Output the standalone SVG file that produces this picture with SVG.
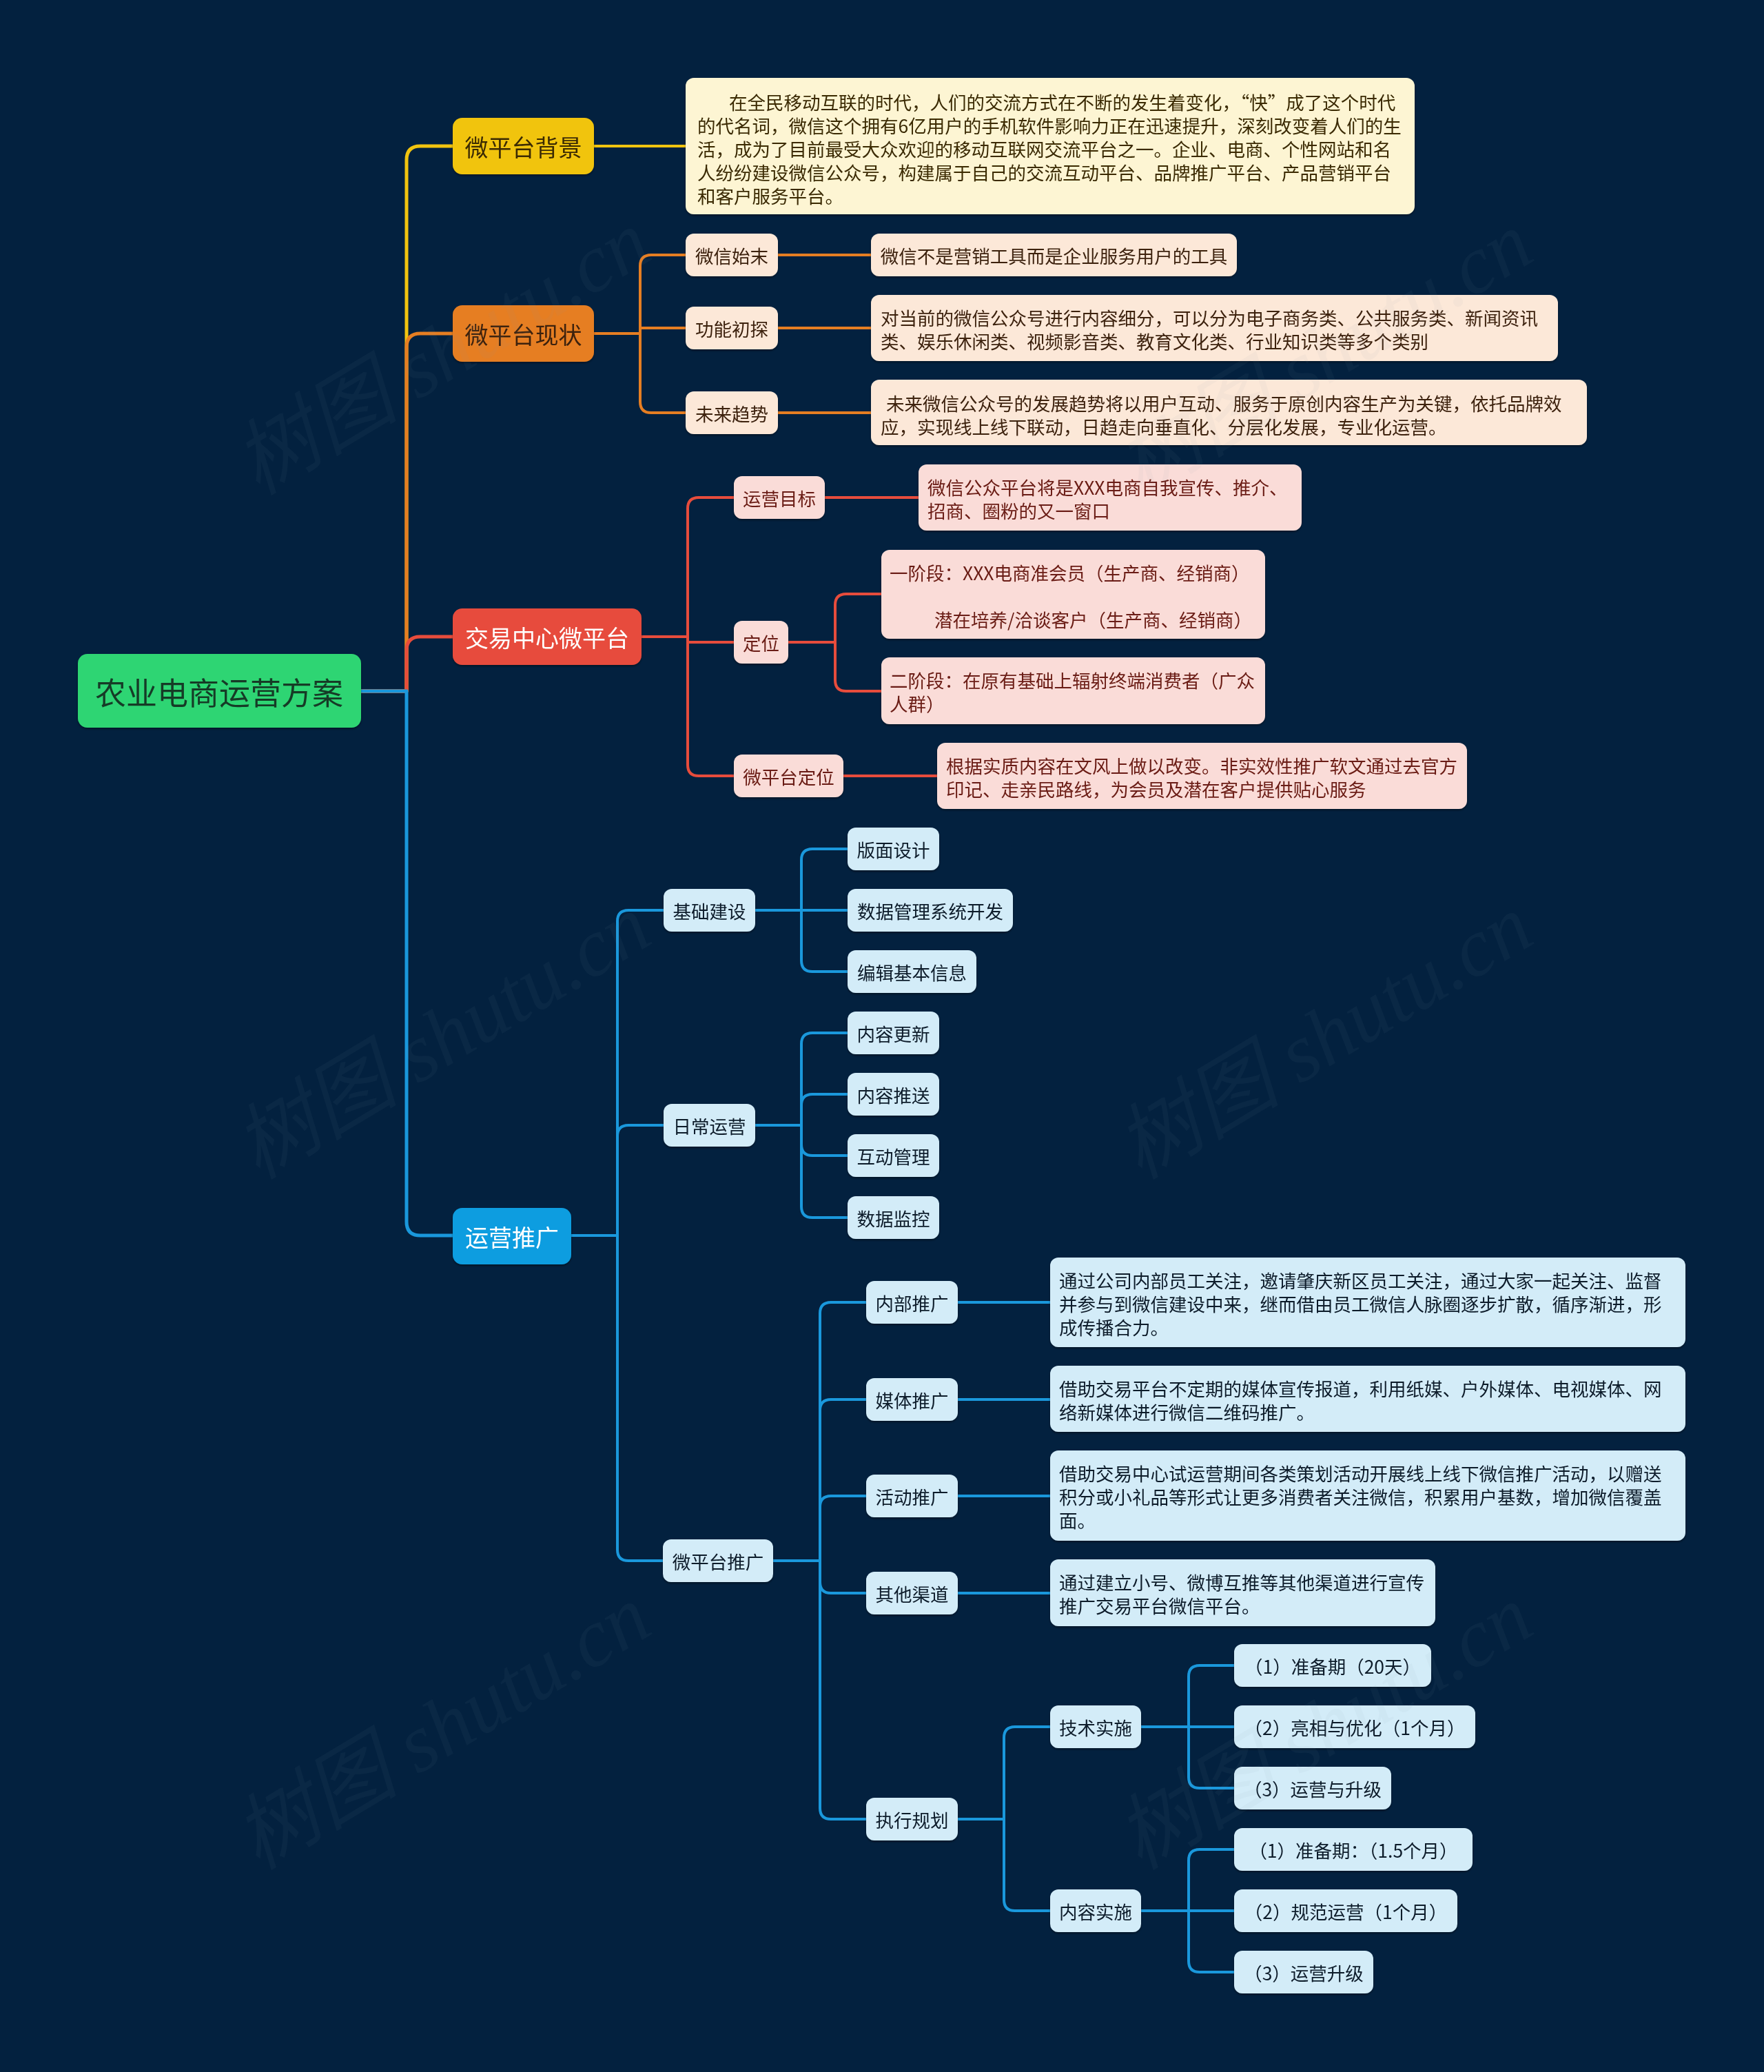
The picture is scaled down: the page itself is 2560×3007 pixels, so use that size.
<svg xmlns="http://www.w3.org/2000/svg" width="2560" height="3007" viewBox="0 0 2560 3007">
<defs>
<filter id="sh" x="-5%" y="-10%" width="110%" height="130%">
<feDropShadow dx="0" dy="2" stdDeviation="1.5" flood-color="#000" flood-opacity="0.4"/>
</filter>
<style>
text{font-family:"Noto Sans CJK SC","Noto Sans",sans-serif;}
.c{text-anchor:middle;dominant-baseline:central;}
.l{dominant-baseline:central;}
.f1{font-size:34px;}
.f2{font-size:26.5px;}
.ln{fill:none;stroke-linecap:round;stroke-linejoin:round;}
.y{stroke:#f1c40f;}
.o{stroke:#e67e22;}
.r{stroke:#e74c3c;}
.b{stroke:#1a98dc;}
.w1{stroke-width:5;}
.w2{stroke-width:4;}
.ny{fill:#fdf5d3;}
.no{fill:#fce8d8;}
.nr{fill:#fadcd8;}
.nb{fill:#d3ecf8;}
.ty{fill:#3a2a06;}
.to{fill:#3d2210;}
.tr{fill:#6a1b12;}
.tb{fill:#0d1b2a;}
.wm{font-family:"Liberation Serif","Noto Sans CJK SC",serif;font-style:italic;font-size:120px;fill:#8a96a8;fill-opacity:0.06;text-anchor:middle;dominant-baseline:central;}
</style>
</defs>
<rect x="0" y="0" width="2560" height="3007" fill="#03213f"/>

<g id="connectors">
<path class="ln y w1" d="M524,1003 H590 V232 Q590,212 610,212 H657"/>
<path class="ln o w1" d="M524,1003 H590 V504 Q590,484 610,484 H657"/>
<path class="ln r w1" d="M524,1003 H590 V944 Q590,924 610,924 H657"/>
<path class="ln b w1" d="M524,1003 H590 V1773 Q590,1793 610,1793 H657"/>

<path class="ln y w2" d="M862,212 H995"/>

<path class="ln o w2" d="M862,484 H929 V386 Q929,370 945,370 H995"/>
<path class="ln o w2" d="M862,484 H929 V583 Q929,599 945,599 H995"/>
<path class="ln o w2" d="M929,476 H995"/>
<path class="ln o w2" d="M1129,370 H1264 M1129,476 H1264 M1129,599 H1264"/>

<path class="ln r w2" d="M931,924 H998 V738 Q998,722 1014,722 H1065"/>
<path class="ln r w2" d="M931,924 H998 V1110 Q998,1126 1014,1126 H1065"/>
<path class="ln r w2" d="M998,932 H1065"/>
<path class="ln r w2" d="M1197,722 H1333"/>
<path class="ln r w2" d="M1144,932 H1212 V878 Q1212,862 1228,862 H1279"/>
<path class="ln r w2" d="M1144,932 H1212 V987 Q1212,1003 1228,1003 H1279"/>
<path class="ln r w2" d="M1224,1126 H1360"/>

<path class="ln b w2" d="M829,1793 H896 V1337 Q896,1321 912,1321 H963"/>
<path class="ln b w2" d="M829,1793 H896 V1649 Q896,1633 912,1633 H963"/>
<path class="ln b w2" d="M829,1793 H896 V2249 Q896,2265 912,2265 H963"/>

<path class="ln b w2" d="M1096,1321 H1163 V1248 Q1163,1232 1179,1232 H1230"/>
<path class="ln b w2" d="M1096,1321 H1230"/>
<path class="ln b w2" d="M1163,1321 V1394 Q1163,1410 1179,1410 H1230"/>

<path class="ln b w2" d="M1096,1633 H1163 V1515 Q1163,1499 1179,1499 H1230"/>
<path class="ln b w2" d="M1163,1633 V1604 Q1163,1588 1179,1588 H1230"/>
<path class="ln b w2" d="M1163,1633 V1661 Q1163,1677 1179,1677 H1230"/>
<path class="ln b w2" d="M1163,1633 V1751 Q1163,1767 1179,1767 H1230"/>

<path class="ln b w2" d="M1122,2265 H1190 V1906 Q1190,1890 1206,1890 H1257"/>
<path class="ln b w2" d="M1190,2265 V2047 Q1190,2031 1206,2031 H1257"/>
<path class="ln b w2" d="M1190,2265 V2187 Q1190,2171 1206,2171 H1257"/>
<path class="ln b w2" d="M1190,2265 V2296 Q1190,2312 1206,2312 H1257"/>
<path class="ln b w2" d="M1190,2265 V2624 Q1190,2640 1206,2640 H1257"/>
<path class="ln b w2" d="M1390,1890 H1524 M1390,2031 H1524 M1390,2171 H1524 M1390,2312 H1524"/>

<path class="ln b w2" d="M1390,2640 H1457 V2522 Q1457,2506 1473,2506 H1524"/>
<path class="ln b w2" d="M1457,2640 V2757 Q1457,2773 1473,2773 H1524"/>

<path class="ln b w2" d="M1656,2506 H1725 V2433 Q1725,2417 1741,2417 H1791"/>
<path class="ln b w2" d="M1725,2506 H1791"/>
<path class="ln b w2" d="M1725,2506 V2579 Q1725,2595 1741,2595 H1791"/>
<path class="ln b w2" d="M1656,2773 H1725 V2700 Q1725,2684 1741,2684 H1791"/>
<path class="ln b w2" d="M1725,2773 H1791"/>
<path class="ln b w2" d="M1725,2773 V2846 Q1725,2862 1741,2862 H1791"/>
</g>

<g id="root" filter="url(#sh)">
<rect x="113" y="949" width="411" height="107" rx="14" fill="#2ed573"/>
<text class="c" x="318" y="1003" font-size="45" fill="#173a28">农业电商运营方案</text>
</g>

<g id="n-bg" filter="url(#sh)">
<rect x="657" y="171" width="205" height="82" rx="14" fill="#f1c40f"/>
<text class="c f1" x="759.5" y="212" fill="#3a2a06">微平台背景</text>
</g>
<g id="n-bg-text" filter="url(#sh)">
<rect class="ny" x="995" y="113" width="1058" height="198" rx="12"/>
<text class="l f2 ty"><tspan x="1058" y="147">在全民移动互联的时代，人们的交流方式在不断的发生着变化，“快”成了这个时代</tspan><tspan x="1012" y="181">的代名词，微信这个拥有6亿用户的手机软件影响力正在迅速提升，深刻改变着人们的生</tspan><tspan x="1012" y="215">活，成为了目前最受大众欢迎的移动互联网交流平台之一。企业、电商、个性网站和名</tspan><tspan x="1012" y="249">人纷纷建设微信公众号，构建属于自己的交流互动平台、品牌推广平台、产品营销平台</tspan><tspan x="1012" y="283">和客户服务平台。</tspan></text>
</g>

<g id="n-xz" filter="url(#sh)">
<rect x="657" y="443" width="205" height="82" rx="14" fill="#e67e22"/>
<text class="c f1" x="759.5" y="484" fill="#3d2210">微平台现状</text>
</g>
<g id="n-wxsm" filter="url(#sh)">
<rect class="no" x="995" y="339" width="134" height="62" rx="12"/>
<text class="c f2 to" x="1062" y="370">微信始末</text>
</g>
<g id="n-wxsm-t" filter="url(#sh)">
<rect class="no" x="1264" y="339" width="531" height="62" rx="12"/>
<text class="c f2 to" x="1529.5" y="370">微信不是营销工具而是企业服务用户的工具</text>
</g>
<g id="n-gnct" filter="url(#sh)">
<rect class="no" x="995" y="445" width="134" height="62" rx="12"/>
<text class="c f2 to" x="1062" y="476">功能初探</text>
</g>
<g id="n-gnct-t" filter="url(#sh)">
<rect class="no" x="1264" y="428" width="997" height="96" rx="12"/>
<text class="l f2 to"><tspan x="1278" y="460">对当前的微信公众号进行内容细分，可以分为电子商务类、公共服务类、新闻资讯</tspan><tspan x="1278" y="494">类、娱乐休闲类、视频影音类、教育文化类、行业知识类等多个类别</tspan></text>
</g>
<g id="n-wlqs" filter="url(#sh)">
<rect class="no" x="995" y="568" width="134" height="62" rx="12"/>
<text class="c f2 to" x="1062" y="599">未来趋势</text>
</g>
<g id="n-wlqs-t" filter="url(#sh)">
<rect class="no" x="1264" y="551" width="1039" height="95" rx="12"/>
<text class="l f2 to"><tspan x="1286" y="584">未来微信公众号的发展趋势将以用户互动、服务于原创内容生产为关键，依托品牌效</tspan><tspan x="1278" y="618">应，实现线上线下联动，日趋走向垂直化、分层化发展，专业化运营。</tspan></text>
</g>

<g id="n-jy" filter="url(#sh)">
<rect x="657" y="883" width="274" height="82" rx="14" fill="#e74c3c"/>
<text class="c f1" x="794" y="924" fill="#ffffff">交易中心微平台</text>
</g>
<g id="n-yymb" filter="url(#sh)">
<rect class="nr" x="1065" y="691" width="132" height="62" rx="12"/>
<text class="c f2 tr" x="1131" y="722">运营目标</text>
</g>
<g id="n-yymb-t" filter="url(#sh)">
<rect class="nr" x="1333" y="674" width="556" height="96" rx="12"/>
<text class="l f2 tr"><tspan x="1346" y="706">微信公众平台将是XXX电商自我宣传、推介、</tspan><tspan x="1346" y="740">招商、圈粉的又一窗口</tspan></text>
</g>
<g id="n-dw" filter="url(#sh)">
<rect class="nr" x="1065" y="901" width="79" height="62" rx="12"/>
<text class="c f2 tr" x="1104.5" y="932">定位</text>
</g>
<g id="n-dw1" filter="url(#sh)">
<rect class="nr" x="1279" y="798" width="557" height="129" rx="12"/>
<text class="l f2 tr"><tspan x="1291" y="830">一阶段：XXX电商准会员（生产商、经销商）</tspan><tspan x="1356" y="898">潜在培养/洽谈客户（生产商、经销商）</tspan></text>
</g>
<g id="n-dw2" filter="url(#sh)">
<rect class="nr" x="1279" y="954" width="557" height="97" rx="12"/>
<text class="l f2 tr"><tspan x="1291" y="986">二阶段：在原有基础上辐射终端消费者（广众</tspan><tspan x="1291" y="1020">人群）</tspan></text>
</g>
<g id="n-wptdw" filter="url(#sh)">
<rect class="nr" x="1065" y="1095" width="159" height="62" rx="12"/>
<text class="c f2 tr" x="1144.5" y="1126">微平台定位</text>
</g>
<g id="n-wptdw-t" filter="url(#sh)">
<rect class="nr" x="1360" y="1078" width="769" height="96" rx="12"/>
<text class="l f2 tr"><tspan x="1373" y="1110">根据实质内容在文风上做以改变。非实效性推广软文通过去官方</tspan><tspan x="1373" y="1144">印记、走亲民路线，为会员及潜在客户提供贴心服务</tspan></text>
</g>

<g id="n-yytg" filter="url(#sh)">
<rect x="657" y="1753" width="172" height="82" rx="14" fill="#0e9de0"/>
<text class="c f1" x="743" y="1794" fill="#ffffff">运营推广</text>
</g>
<g id="n-jcjs" filter="url(#sh)">
<rect class="nb" x="963" y="1290" width="133" height="62" rx="12"/>
<text class="c f2 tb" x="1029.5" y="1321">基础建设</text>
</g>
<g id="n-bmsj" filter="url(#sh)">
<rect class="nb" x="1230" y="1201" width="133" height="62" rx="12"/>
<text class="c f2 tb" x="1296.5" y="1232">版面设计</text>
</g>
<g id="n-sjgl" filter="url(#sh)">
<rect class="nb" x="1230" y="1290" width="240" height="62" rx="12"/>
<text class="c f2 tb" x="1350" y="1321">数据管理系统开发</text>
</g>
<g id="n-bjjb" filter="url(#sh)">
<rect class="nb" x="1230" y="1379" width="187" height="62" rx="12"/>
<text class="c f2 tb" x="1323.5" y="1410">编辑基本信息</text>
</g>
<g id="n-rcyy" filter="url(#sh)">
<rect class="nb" x="963" y="1602" width="133" height="62" rx="12"/>
<text class="c f2 tb" x="1029.5" y="1633">日常运营</text>
</g>
<g id="n-nrgx" filter="url(#sh)">
<rect class="nb" x="1230" y="1468" width="133" height="62" rx="12"/>
<text class="c f2 tb" x="1296.5" y="1499">内容更新</text>
</g>
<g id="n-nrts" filter="url(#sh)">
<rect class="nb" x="1230" y="1557" width="133" height="62" rx="12"/>
<text class="c f2 tb" x="1296.5" y="1588">内容推送</text>
</g>
<g id="n-hdgl" filter="url(#sh)">
<rect class="nb" x="1230" y="1646" width="133" height="62" rx="12"/>
<text class="c f2 tb" x="1296.5" y="1677">互动管理</text>
</g>
<g id="n-sjjk" filter="url(#sh)">
<rect class="nb" x="1230" y="1736" width="133" height="62" rx="12"/>
<text class="c f2 tb" x="1296.5" y="1767">数据监控</text>
</g>
<g id="n-wpttg" filter="url(#sh)">
<rect class="nb" x="962" y="2234" width="160" height="62" rx="12"/>
<text class="c f2 tb" x="1042" y="2265">微平台推广</text>
</g>
<g id="n-nbtg" filter="url(#sh)">
<rect class="nb" x="1257" y="1859" width="133" height="62" rx="12"/>
<text class="c f2 tb" x="1323.5" y="1890">内部推广</text>
</g>
<g id="n-nbtg-t" filter="url(#sh)">
<rect class="nb" x="1524" y="1825" width="922" height="130" rx="12"/>
<text class="l f2 tb"><tspan x="1537" y="1857">通过公司内部员工关注，邀请肇庆新区员工关注，通过大家一起关注、监督</tspan><tspan x="1537" y="1891">并参与到微信建设中来，继而借由员工微信人脉圈逐步扩散，循序渐进，形</tspan><tspan x="1537" y="1925">成传播合力。</tspan></text>
</g>
<g id="n-mttg" filter="url(#sh)">
<rect class="nb" x="1257" y="2000" width="133" height="62" rx="12"/>
<text class="c f2 tb" x="1323.5" y="2031">媒体推广</text>
</g>
<g id="n-mttg-t" filter="url(#sh)">
<rect class="nb" x="1524" y="1982" width="922" height="96" rx="12"/>
<text class="l f2 tb"><tspan x="1537" y="2014">借助交易平台不定期的媒体宣传报道，利用纸媒、户外媒体、电视媒体、网</tspan><tspan x="1537" y="2048">络新媒体进行微信二维码推广。</tspan></text>
</g>
<g id="n-hdtg" filter="url(#sh)">
<rect class="nb" x="1257" y="2140" width="133" height="62" rx="12"/>
<text class="c f2 tb" x="1323.5" y="2171">活动推广</text>
</g>
<g id="n-hdtg-t" filter="url(#sh)">
<rect class="nb" x="1524" y="2105" width="922" height="131" rx="12"/>
<text class="l f2 tb"><tspan x="1537" y="2137">借助交易中心试运营期间各类策划活动开展线上线下微信推广活动，以赠送</tspan><tspan x="1537" y="2171">积分或小礼品等形式让更多消费者关注微信，积累用户基数，增加微信覆盖</tspan><tspan x="1537" y="2205">面。</tspan></text>
</g>
<g id="n-qtqd" filter="url(#sh)">
<rect class="nb" x="1257" y="2281" width="133" height="62" rx="12"/>
<text class="c f2 tb" x="1323.5" y="2312">其他渠道</text>
</g>
<g id="n-qtqd-t" filter="url(#sh)">
<rect class="nb" x="1524" y="2263" width="559" height="97" rx="12"/>
<text class="l f2 tb"><tspan x="1537" y="2295">通过建立小号、微博互推等其他渠道进行宣传</tspan><tspan x="1537" y="2329">推广交易平台微信平台。</tspan></text>
</g>
<g id="n-zxgh" filter="url(#sh)">
<rect class="nb" x="1257" y="2609" width="133" height="62" rx="12"/>
<text class="c f2 tb" x="1323.5" y="2640">执行规划</text>
</g>
<g id="n-jsss" filter="url(#sh)">
<rect class="nb" x="1524" y="2475" width="132" height="62" rx="12"/>
<text class="c f2 tb" x="1590" y="2506">技术实施</text>
</g>
<g id="n-js1" filter="url(#sh)">
<rect class="nb" x="1791" y="2386" width="286" height="62" rx="12"/>
<text class="c f2 tb" x="1934" y="2417">（1）准备期（20天）</text>
</g>
<g id="n-js2" filter="url(#sh)">
<rect class="nb" x="1791" y="2475" width="350" height="62" rx="12"/>
<text class="c f2 tb" x="1966" y="2506">（2）亮相与优化（1个月）</text>
</g>
<g id="n-js3" filter="url(#sh)">
<rect class="nb" x="1791" y="2564" width="228" height="62" rx="12"/>
<text class="c f2 tb" x="1905" y="2595">（3）运营与升级</text>
</g>
<g id="n-nrss" filter="url(#sh)">
<rect class="nb" x="1524" y="2742" width="132" height="62" rx="12"/>
<text class="c f2 tb" x="1590" y="2773">内容实施</text>
</g>
<g id="n-nr1" filter="url(#sh)">
<rect class="nb" x="1791" y="2653" width="346" height="62" rx="12"/>
<text class="c f2 tb" x="1964" y="2684">（1）准备期：（1.5个月）</text>
</g>
<g id="n-nr2" filter="url(#sh)">
<rect class="nb" x="1791" y="2742" width="324" height="62" rx="12"/>
<text class="c f2 tb" x="1953" y="2773">（2）规范运营（1个月）</text>
</g>
<g id="n-nr3" filter="url(#sh)">
<rect class="nb" x="1791" y="2831" width="202" height="62" rx="12"/>
<text class="c f2 tb" x="1892" y="2862">（3）运营升级</text>
</g>

<g id="watermarks">
<text class="wm" transform="translate(642,512) rotate(-31)">树图 shutu.cn</text>
<text class="wm" transform="translate(1922,514) rotate(-31)">树图 shutu.cn</text>
<text class="wm" transform="translate(642,1505) rotate(-31)">树图 shutu.cn</text>
<text class="wm" transform="translate(1922,1505) rotate(-31)">树图 shutu.cn</text>
<text class="wm" transform="translate(642,2507) rotate(-31)">树图 shutu.cn</text>
<text class="wm" transform="translate(1922,2507) rotate(-31)">树图 shutu.cn</text>
</g>
</svg>
